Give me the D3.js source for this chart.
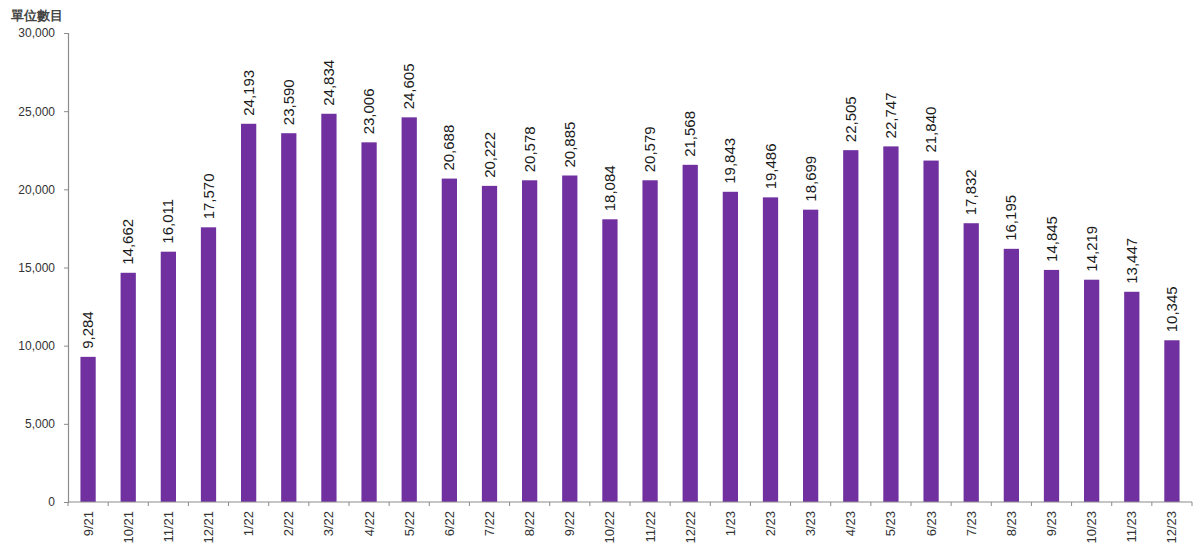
<!DOCTYPE html>
<html>
<head>
<meta charset="utf-8">
<script src="https://cdn.jsdelivr.net/npm/d3@7"></script>
<style>
  html, body { margin: 0; padding: 0; background: #fff; }
  svg { display: block; }
  text { font-family: "Liberation Sans", Arial, sans-serif; }
</style>
</head>
<body>
<svg id="chart" width="1200" height="554"></svg>
<script>
const categories = ["9/21","10/21","11/21","12/21","1/22","2/22","3/22","4/22","5/22","6/22","7/22","8/22","9/22","10/22","11/22","12/22","1/23","2/23","3/23","4/23","5/23","6/23","7/23","8/23","9/23","10/23","11/23","12/23"];
const values = [9284,14662,16011,17570,24193,23590,24834,23006,24605,20688,20222,20578,20885,18084,20579,21568,19843,19486,18699,22505,22747,21840,17832,16195,14845,14219,13447,10345];
const yTicks = [0,5000,10000,15000,20000,25000,30000];
const unitLabel = "單位數目";

const svg = d3.select("#chart");
const margin = {left: 68, right: 8, top: 33, bottom: 52};
const W = 1200, H = 554;
const x = d3.scaleBand().domain(categories).range([margin.left, W - margin.right]).paddingInner(0.62).paddingOuter(0.31);
const y = d3.scaleLinear().domain([0, 30000]).range([H - margin.bottom, margin.top]);

const fmt = d3.format(",");

// bars
svg.append("g").selectAll("rect").data(values).join("rect")
  .attr("x", (d,i) => x(categories[i]))
  .attr("y", d => y(d))
  .attr("width", x.bandwidth())
  .attr("height", d => y(0) - y(d))
  .attr("fill", "#7030A0");

// y axis
const yAxis = svg.append("g").attr("transform", `translate(${margin.left},0)`)
  .call(d3.axisLeft(y).tickValues(yTicks).tickFormat(fmt).tickSize(4).tickPadding(9));
yAxis.select(".domain").attr("stroke", "#8c8c8c").attr("stroke-width", 1.2);
yAxis.selectAll(".tick line").attr("stroke", "#8c8c8c");
yAxis.selectAll(".tick text").attr("font-size", 12).attr("fill", "#333").attr("font-family", "'Liberation Sans', Arial, sans-serif");

// x axis
const xAxisG = svg.append("g").attr("transform", `translate(0,${y(0)})`);
xAxisG.append("line").attr("x1", margin.left).attr("x2", W - margin.right)
  .attr("stroke", "#8c8c8c").attr("stroke-width", 1.2);
xAxisG.selectAll("line.tk").data(d3.range(categories.length + 1)).join("line")
  .attr("class", "tk")
  .attr("x1", i => margin.left + i * x.step())
  .attr("x2", i => margin.left + i * x.step())
  .attr("y1", 0).attr("y2", 4).attr("stroke", "#8c8c8c");
xAxisG.selectAll("text").data(categories).join("text")
  .attr("transform", d => `translate(${x(d) + x.bandwidth()/2 + 4.5},9) rotate(-90)`)
  .attr("text-anchor", "end")
  .attr("font-size", 13)
  .attr("fill", "#333")
  .text(d => d);

// data labels
svg.append("g").selectAll("text").data(values).join("text")
  .attr("transform", (d,i) => `translate(${x(categories[i]) + x.bandwidth()/2 + 5},${y(d) - 8}) rotate(-90)`)
  .attr("text-anchor", "start")
  .attr("font-size", 15)
  .attr("fill", "#1a1a1a")
  .text(d => fmt(d));

// unit label
svg.append("text").attr("x", 11).attr("y", 20)
  .attr("font-family", "'Noto Sans CJK TC', sans-serif")
  .attr("font-size", 12.5).attr("font-weight", "bold").attr("fill", "#444")
  .text(unitLabel);
</script>
</body>
</html>
